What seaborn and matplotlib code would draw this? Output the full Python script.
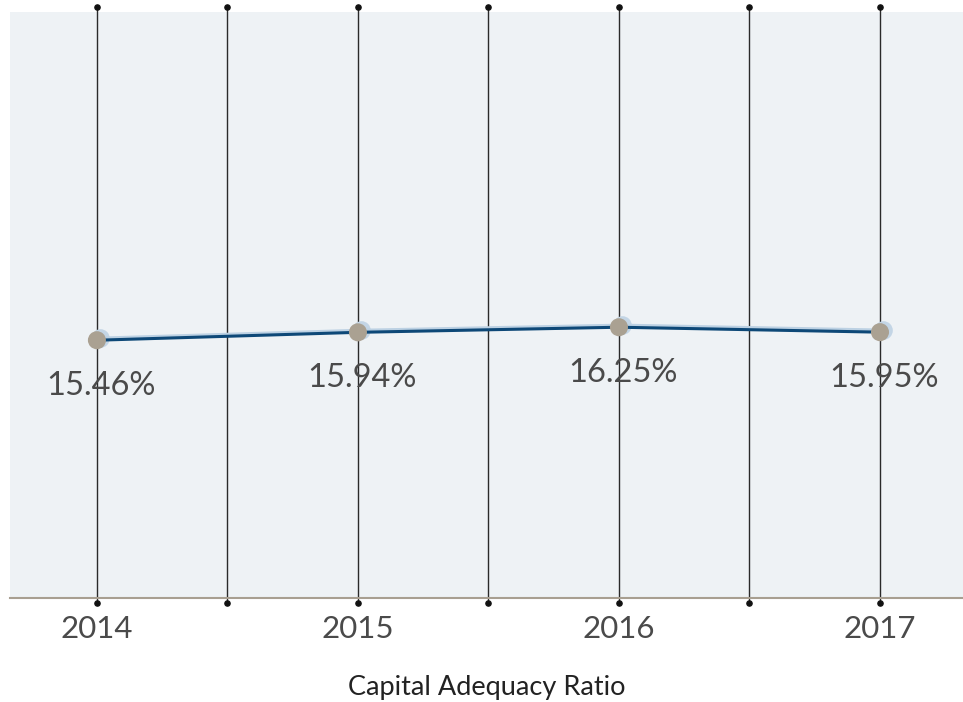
import matplotlib
matplotlib.use('Agg')
import matplotlib.pyplot as plt
import matplotlib.patheffects as pe
import matplotlib.transforms as mtransforms
import seaborn as sns
import pandas as pd
import numpy as np

# data
years = ['2014', '2015', '2016', '2017']
ratio = [15.46, 15.94, 16.25, 15.95]
labels = ['15.46%', '15.94%', '16.25%', '15.95%']
title = 'Capital Adequacy Ratio'

df = pd.DataFrame({'year': years, 'ratio': ratio})

sns.set_theme(style='white')
plt.rcParams['font.family'] = ['Lato', 'DejaVu Sans']

fig = plt.figure(figsize=(9.63, 7.02), dpi=100)
ax = fig.add_axes([10 / 963, 1 - 598 / 702, 953 / 963, 586 / 702])
ax.set_facecolor('#eef2f5')

# vertical grid lines with dot ends
for xv in np.arange(0, len(years) - 0.5, 0.5):
    ax.plot([xv, xv], [-0.008, 1.008], transform=ax.get_xaxis_transform(),
            color='#2a2a2a', lw=1, clip_on=False, zorder=1)
    ax.scatter([xv, xv], [-0.008, 1.008], transform=ax.get_xaxis_transform(),
               color='#111111', s=14, clip_on=False, zorder=1)

# shadow behind markers
shadow_tr = mtransforms.offset_copy(ax.transData, fig=fig, x=2.5, y=1.5, units='points')
ax.scatter(range(len(years)), ratio, s=180, color='#c3d5e5', linewidths=0,
           transform=shadow_tr, zorder=2)

shadow = [pe.SimpleLineShadow(offset=(2, 1.5), shadow_color='#bcd1e3', alpha=1), pe.Normal()]
sns.lineplot(data=df, x='year', y='ratio', ax=ax, color='#0d4877', lw=2.2,
             marker='o', markersize=13, markerfacecolor='#aaa192',
             markeredgewidth=0, path_effects=shadow, zorder=3)

for i, (v, lab) in enumerate(zip(ratio, labels)):
    ax.annotate(lab, (i, v), xytext=(3, -33), textcoords='offset points',
                ha='center', va='center', fontsize=23.5, color='#4a4a4a')

ax.set_xlim(-0.333, 3.318)
ax.set_ylim(-0.2, 35.4)
ax.set_yticks([])
ax.set_ylabel('')
ax.set_xlabel(title, fontsize=19.5, color='#222222', labelpad=23)
ax.tick_params(axis='x', length=0, labelsize=22.5, labelcolor='#4a4a4a', pad=12)

for s in ['top', 'left', 'right']:
    ax.spines[s].set_visible(False)
ax.spines['bottom'].set_color('#a89f91')
ax.spines['bottom'].set_linewidth(1.5)

fig.savefig('out.png', dpi=100)
